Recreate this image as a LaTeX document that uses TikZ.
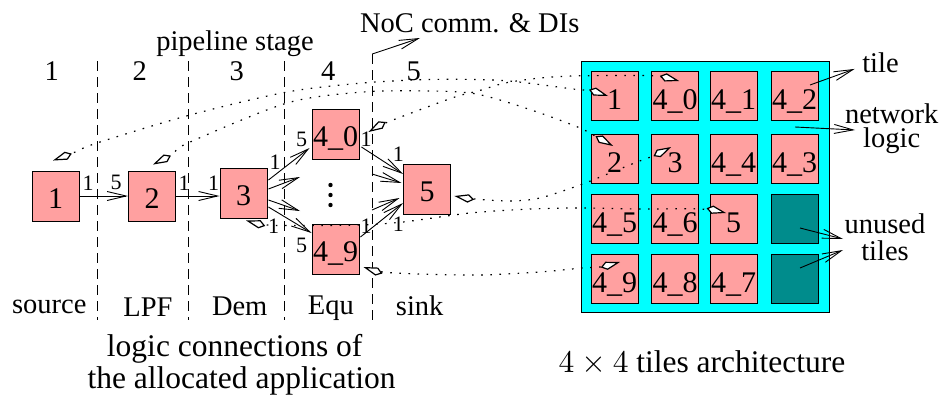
\documentclass[tikz,border=0pt]{standalone}
\usepackage{fontspec}
\setmainfont{Liberation Serif}
\newfontfamily\lmfont{lmroman10-regular.otf}
\usetikzlibrary{arrows.meta,calc}
\definecolor{tilepink}{RGB}{255,160,160}
\definecolor{noccyan}{RGB}{0,255,255}
\definecolor{unusedteal}{RGB}{0,140,140}
\begin{document}
\begin{tikzpicture}[x=1pt,y=-1pt,
  every node/.style={inner sep=0pt},
  appbox/.style={draw, line width=0.9pt, fill=tilepink, minimum width=47pt, minimum height=50pt,
    text height=25pt, text depth=0pt, font=\fontsize{30}{30}\selectfont},
  tilebox/.style={draw, line width=0.9pt, fill=tilepink, minimum width=47pt, minimum height=49pt,
    text height=27pt, text depth=0pt, font=\fontsize{30}{30}\selectfont},
  unusedbox/.style={tilebox, fill=unusedteal},
  caption/.style={font=\fontsize{31.5}{31.5}\selectfont, anchor=base},
  lbl/.style={font=\fontsize{28.5}{28.5}\selectfont, anchor=base},
  num/.style={font=\fontsize{22}{22}\selectfont},
  arr/.style={line width=0.9pt, -{Straight Barb[length=19pt,width=9pt]}},
  stagesep/.style={line width=0.9pt, dash pattern=on 10pt off 6pt},
  alloc/.style={line width=1.2pt, dash pattern=on 1.6pt off 7.5pt,
    {Kite[length=20pt,width=8.5pt,inset=6pt,fill=white]}-{Kite[length=20pt,width=8.5pt,inset=6pt,fill=white]}},
]
\useasboundingbox (0,0) rectangle (941,396);

% ---------- pipeline stages ----------
\coordinate (nocfoot) at (372.3,54);
\coordinate (nochead) at (420,38);
\draw[stagesep] (97.3,61) -- (97.3,320);
\draw[stagesep] (188.7,61) -- (188.7,320);
\draw[stagesep] (284.3,61) -- (284.3,320);
\draw[stagesep] (nocfoot) -- (372.3,320);
\draw[arr] (nocfoot) -- (nochead);

\node[lbl] at (469.7,32.3) {NoC comm. \& DIs};
\node[lbl] at (235,50) {pipeline stage};
\node[lbl] at (51.7,80) {1};
\node[lbl] at (139.7,80) {2};
\node[lbl] at (236.7,80) {3};
\node[lbl] at (328.3,80) {4};
\node[lbl] at (413.7,80) {5};

\node[lbl] at (49.3,313.3) {source};
\node[lbl] at (148,316) {LPF};
\node[lbl] at (239.7,315) {Dem};
\node[lbl] at (330.8,314.5) {Equ};
\node[lbl] at (419.7,315) {sink};

\node[caption] at (234.7,356.7) {logic connections of};
\node[caption] at (241.5,388) {the allocated application};

% ---------- application graph ----------
\node[appbox] (b1) at (55.5,196) {1};
\node[appbox] (b2) at (152,196) {2};
\node[appbox] (b3) at (243.5,193) {3};
\node[appbox] (b40) at (335.5,134) {4\_0};
\node[appbox] (b49) at (335.5,249) {4\_9};
\node[appbox] (b5) at (427,189) {5};

\fill (330.5,185) circle (2.2pt);
\fill (330.5,195) circle (2.2pt);
\fill (330.5,205) circle (2.2pt);

\coordinate (du) at (300,177);
\coordinate (dl) at (300,211);
\coordinate (eu) at (372,174);
\coordinate (el) at (372,210);

\draw[arr] (b1.east) -- (b2.west);
\draw[arr] (b2.east) -- (b2.east -| b3.west);
\draw[arr] ($(b3.east)+(1,-13)$) -- ($(b40.west)+(-2,14)$);
\draw[arr] ($(b3.east)+(1,-4)$) -- (du);
\draw[arr] ($(b3.east)+(1,7)$) -- (dl);
\draw[arr] ($(b3.east)+(1,14)$) -- ($(b49.west)+(0,-16)$);
\draw[arr] ($(b40.east)+(2,13)$) -- ($(b5.west)+(0,-15)$);
\draw[arr] (eu) -- ($(b5.west)+(-1.5,-6)$);
\draw[arr] (el) -- ($(b5.west)+(-3.5,9)$);
\draw[arr] ($(b49.east)+(1,-12)$) -- ($(b5.west)+(0,14)$);

\node[num] at (88,183) {1};
\node[num] at (116,182.5) {5};
\node[num] at (184,183) {1};
\node[num] at (213.5,183) {1};
\node[num] at (275,162.5) {1};
\node[num] at (301.7,139) {5};
\node[num] at (273.7,226.7) {1};
\node[num] at (301.7,245.8) {5};
\node[num] at (366,139) {1};
\node[num] at (398.3,154) {1};
\node[num] at (366,226) {1};
\node[num] at (398.3,224.5) {1};

% ---------- 4x4 tile architecture ----------
\node[draw, line width=0.9pt, fill=noccyan, minimum width=247.6pt, minimum height=251.7pt] (noc) at (705.5,186.85) {};

\node[tilebox] (t1)  at (614.5,96) {1};
\node[tilebox] (t40) at (675.2,96) {4\_0};
\node[tilebox] (t41) at (733.5,96) {4\_1};
\node[tilebox] (t42) at (794.5,96) {4\_2};
\node[tilebox] (t2)  at (614.5,158.7) {2};
\node[tilebox] (t3)  at (675.2,158.7) {3};
\node[tilebox] (t44) at (733.5,158.7) {4\_4};
\node[tilebox] (t43) at (794.5,158.7) {4\_3};
\node[tilebox] (t45) at (614.5,218.7) {4\_5};
\node[tilebox] (t46) at (675.2,218.7) {4\_6};
\node[tilebox] (t5)  at (733.5,218.7) {5};
\node[unusedbox] (u1) at (794.5,218.7) {};
\node[tilebox] (t49) at (614.5,279.3) {4\_9};
\node[tilebox] (t48) at (675.2,279.3) {4\_8};
\node[tilebox] (t47) at (733.5,279.3) {4\_7};
\node[unusedbox] (u2) at (794.5,279.3) {};

\node[caption] at (702,372.7) {{\lmfont 4\hspace{0.22em}×\hspace{0.22em}4} tiles architecture};

\node[lbl] (tilelbl) at (880.5,72.7) {tile};
\node[font=\fontsize{28.5}{24.2}\selectfont, align=center, anchor=north] (netlbl) at (891.7,103.8) {network\\logic};
\node[font=\fontsize{28.5}{26.7}\selectfont, align=center, anchor=north] (unlbl) at (885,213.8) {unused\\tiles};

\coordinate (netfoot) at (795,127);
\coordinate (nettip) at (855,130);
\coordinate (untip1) at (843,239);
\coordinate (untip2) at (843,250);
\draw[arr] ($(t42.center)+(15.5,-11)$) -- ($(tilelbl.west)+(-7.5,6)$);
\draw[arr] (netfoot) -- (nettip);
\draw[arr] ($(u1.center)+(5.5,9.3)$) -- (untip1);
\draw[arr] ($(u2.center)+(5.5,-11.3)$) -- (untip2);

% ---------- allocation of application nodes onto tiles ----------
\coordinate (k1b) at ($(b1.north)+(-2.5,-10)$);
\coordinate (k1t) at ($(t1.center)+(-6.5,0)$);
\coordinate (k2b) at ($(b2.north)+(1,-6)$);
\coordinate (k2t) at ($(t2.center)+(-1.5,-12.7)$);
\coordinate (k3b) at ($(b40.east)+(9,-2)$);
\coordinate (k3t) at ($(t40.center)+(4,-15)$);
\coordinate (k4b) at ($(b3.south)+(2.5,2)$);
\coordinate (k4t) at ($(t5.center)+(-7.5,-5.7)$);
\coordinate (k5b) at ($(b5.east)+(3.5,7)$);
\coordinate (k5t) at ($(t3.center)+(-4,-11.7)$);
\coordinate (k6b) at ($(b49.east)+(4,18)$);
\coordinate (k6t) at ($(t49.center)+(5.5,-17.3)$);

\draw[alloc] plot[smooth] coordinates {(k1b) (73,153) (97,143) (190,115) (287,92) (363,83) (430,79.5) (503,80.5) (573,89) (591,91) (k1t)};
\draw[alloc] plot[smooth] coordinates {(k2b) (173,154) (188,143) (287,103) (363,92) (430,91) (470,93) (500,100) (543,114) (580,128) (595,136) (k2t)};
\draw[alloc] plot[smooth] coordinates {(k3b) (388,122) (430,106) (458,96) (478,91) (505,83) (540,78) (573,76) (620,75.5) (655,76) (k3t)};
\draw[alloc] plot[smooth] coordinates {(k4b) (267,225) (300,225.5) (360,225) (403,222) (470,213) (530,209) (582,208) (640,209) (700,209) (k4t)};
\draw[alloc] plot[smooth] coordinates {(k5b) (475,199) (510,201) (540,198) (580,185) (610,173) (637,162) (653,156) (k5t)};
\draw[alloc] plot[smooth] coordinates {(k6b) (383,272) (420,274) (480,275) (540,272) (582,268) (600,267) (k6t)};
\end{tikzpicture}
\end{document}
